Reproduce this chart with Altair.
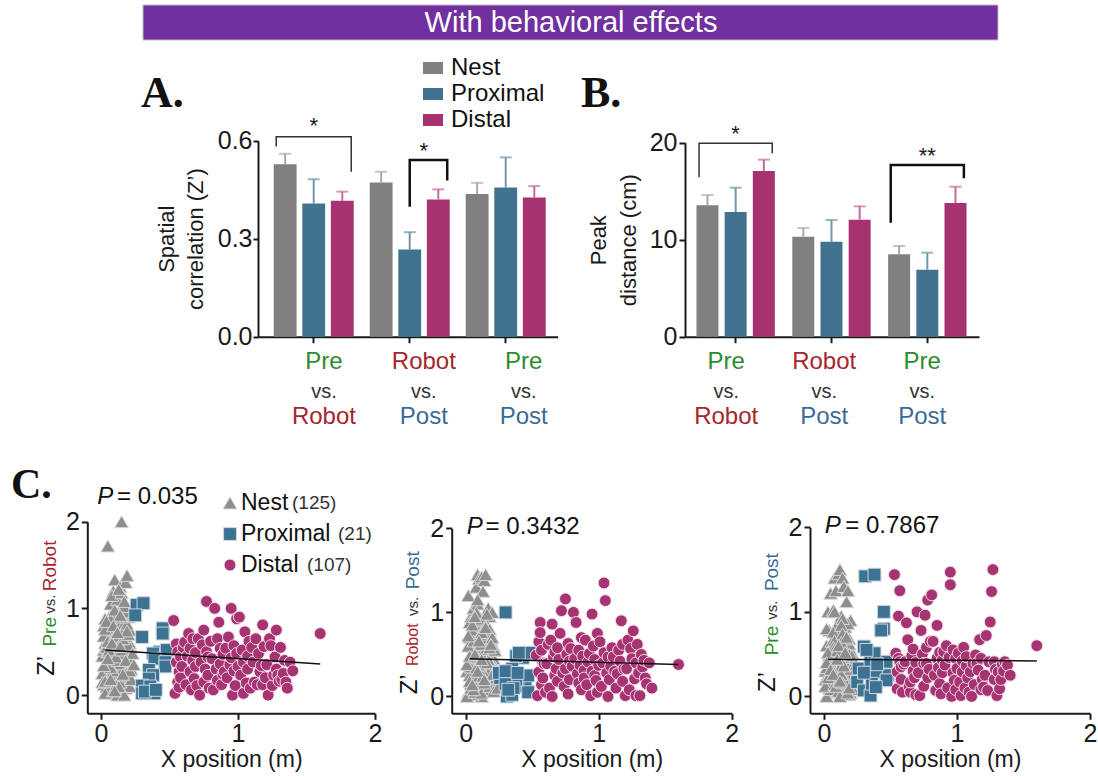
import altair as alt
import pandas as pd

W, H = 1098, 776
SANS = "Liberation Sans, Arial, Helvetica, sans-serif"
SERIF = "Liberation Serif, Times New Roman, serif"
AX = "#1a1a1a"

# ---------------- data ----------------
banner_text = "With behavioral effects"
groups = ["Pre vs. Robot", "Robot vs. Post", "Pre vs. Post"]
group_top = ["Pre", "Robot", "Pre"]
group_bottom = ["Robot", "Post", "Post"]
word_names = ["Pre", "Robot", "Post"]
word_colors = ["#2E8B2E", "#A6262C", "#3B6A95"]
cats = ["Nest", "Proximal", "Distal"]
cat_counts = ["(125)", "(21)", "(107)"]
bar_colors = ["#808080", "#41728F", "#A6336F"]
err_colors = ["#A9A9A9", "#7096AF", "#C46A9C"]
pt_fill = ["#8E8E8E", "#3E7292", "#A63372"]
pt_stroke = ["#D8D8D8", "#C9D7E2", "#F4DCE8"]
pt_shape = ["triangle-up", "square", "circle"]
c_ticks = [0, 1, 2]

# Panel A: spatial correlation (Z'), mean and SEM per group
a_nest = [0.528, 0.472, 0.437]
a_prox = [0.408, 0.267, 0.457]
a_dist = [0.416, 0.420, 0.426]
a_nest_sem = [0.032, 0.033, 0.034]
a_prox_sem = [0.074, 0.053, 0.092]
a_dist_sem = [0.028, 0.031, 0.035]

# Panel B: peak distance (cm)
b_nest = [13.54, 10.31, 8.49]
b_prox = [12.85, 9.79, 6.91]
b_dist = [17.08, 12.06, 13.78]
b_nest_sem = [1.06, 0.89, 0.86]
b_prox_sem = [2.51, 2.24, 1.75]
b_dist_sem = [1.17, 1.38, 1.68]

# Panel C: X position (m) of each cell and Z' in the three comparisons
nest_x = [0.01,0.02,0.02,0.03,0.03,0.04,0.04,0.05,0.05,0.06,0.06,0.07,0.07,0.08,0.08,0.09,0.09,0.10,0.10,0.11,0.11,0.12,0.12,0.13,0.13,
          0.14,0.14,0.15,0.15,0.16,0.16,0.17,0.17,0.18,0.18,0.19,0.19,0.20,0.20,0.21,0.21,0.22,0.02,0.03,0.05,0.06,0.08,0.09,0.11,0.12,
          0.13,0.15,0.16,0.18,0.19,0.21,0.01,0.04,0.06,0.07,0.10,0.12,0.14,0.17,0.20,0.03,0.05,0.08,0.11,0.13,0.16,0.18,0.22,0.02,0.07,
          0.09,0.10,0.14,0.15,0.19,0.21,0.04,0.06,0.08,0.12,0.16,0.17,0.20,0.01,0.03,0.05,0.09,0.11,0.13,0.15,0.18,0.19,0.23,0.04,0.07,
          0.10,0.12,0.14,0.16,0.17,0.20,0.22,0.02,0.06,0.08,0.11,0.13,0.15,0.18,0.21,0.03,0.05,0.09,0.10,0.14,0.16,0.19,0.24,0.07,0.12]
nest_z1 = [0.45,0.80,0.12,0.60,0.30,0.72,0.05,1.72,0.38,0.90,0.20,0.65,1.05,0.48,0.15,1.20,0.70,1.33,0.33,0.85,0.02,1.10,0.55,0.95,0.25,
           1.25,0.60,2.00,0.40,1.00,0.18,0.78,0.50,1.30,0.08,1.38,0.62,0.90,0.35,0.75,0.10,0.55,0.52,0.88,0.28,0.66,1.15,0.42,0.82,0.00,
           0.70,1.18,0.30,0.96,0.45,0.60,0.25,0.10,0.75,0.40,0.58,0.85,0.15,1.02,0.22,0.02,0.50,0.92,0.64,0.36,0.80,0.58,0.30,0.68,0.88,
           0.05,0.98,0.43,0.72,0.82,0.40,0.55,0.35,0.20,0.65,0.48,1.08,0.58,0.15,0.76,0.62,0.28,0.12,1.22,0.90,0.68,0.26,0.48,0.85,0.32,
           0.68,0.40,0.92,0.65,0.00,0.70,0.18,0.34,0.52,0.60,0.44,0.10,0.52,0.40,0.28,0.16,0.42,0.80,0.05,0.56,0.24,0.74,0.35,0.18,0.72]
nest_z2 = [0.30,1.20,0.05,0.70,0.42,0.95,0.15,0.60,0.25,0.85,1.05,0.35,0.55,1.30,0.10,1.45,0.65,1.40,0.20,0.80,0.48,1.42,0.00,0.90,0.33,
           1.38,0.58,1.45,0.12,0.75,0.40,1.05,0.22,0.95,0.50,0.68,0.08,1.00,0.30,0.45,0.60,0.20,0.40,0.88,0.02,0.52,0.18,1.10,0.62,0.28,
           1.25,0.45,0.85,0.15,0.72,0.38,0.00,0.50,0.30,0.78,0.10,0.92,0.64,0.35,0.55,0.25,0.78,0.42,0.14,0.68,0.20,0.80,0.32,0.60,0.05,
           1.15,0.24,0.82,0.48,0.60,0.15,0.35,0.66,1.00,0.04,0.52,0.28,0.70,0.38,0.18,0.85,0.46,0.74,0.30,0.56,0.12,0.40,0.22,0.10,0.95,
           0.36,0.76,0.16,0.98,0.44,0.26,0.55,0.72,0.08,0.34,0.62,0.24,0.82,0.58,0.06,0.48,0.14,0.30,0.66,0.20,0.40,0.62,0.10,0.50,0.44]
nest_z3 = [0.20,0.60,0.00,1.00,0.35,0.78,0.10,1.22,0.45,0.65,0.25,1.02,0.15,1.40,0.55,0.30,1.25,0.85,0.05,1.45,0.40,0.70,1.50,0.18,0.95,
           0.60,1.40,0.28,1.30,0.12,0.82,0.50,1.12,0.20,1.25,0.38,0.68,0.04,0.90,0.25,0.52,0.15,0.80,0.42,0.08,0.58,1.00,0.32,0.72,0.46,
           0.10,0.62,0.36,0.86,0.02,0.44,0.30,0.50,0.18,0.76,0.40,0.06,0.92,0.26,0.55,0.40,0.14,0.66,0.30,0.84,0.08,0.48,0.20,0.34,0.58,
           0.42,0.16,0.74,0.24,0.62,0.10,0.48,0.22,0.56,0.34,0.02,0.68,0.38,0.12,0.52,0.28,0.44,0.06,0.64,0.20,0.36,0.50,0.14,0.24,0.30,
           0.54,0.00,0.46,0.18,0.70,0.32,0.08,0.40,0.28,0.14,0.60,0.26,0.36,0.04,0.48,0.22,0.32,0.12,0.44,0.16,0.52,0.10,0.38,0.26,0.18]

prox_x = [0.26,0.31,0.25,0.45,0.45,0.30,0.43,0.48,0.38,0.39,0.47,0.47,0.35,0.38,0.35,0.30,0.36,0.30,0.39,0.32,0.40]
prox_z1 = [1.04,1.06,0.92,0.77,0.71,0.67,0.50,0.52,0.48,0.42,0.38,0.33,0.29,0.23,0.19,0.11,0.10,0.02,0.02,0.04,0.06]
prox_z2 = [0.22,0.00,0.28,0.50,0.18,1.00,0.46,0.52,0.48,0.12,0.25,0.05,0.33,0.20,0.02,0.15,0.10,0.30,0.28,0.08,0.52]
prox_z3 = [0.33,1.42,0.17,1.00,0.80,0.07,0.78,0.25,1.44,0.29,0.19,0.41,0.43,0.51,0.01,0.59,0.15,0.28,0.11,0.55,0.38]

dist_x = [0.53,0.54,0.55,0.55,0.56,0.56,0.57,0.57,0.58,0.58,0.59,0.60,
          0.61,0.62,0.63,0.64,0.65,0.65,0.66,0.67,0.67,0.68,0.69,0.69,0.70,
          0.71,0.72,0.73,0.74,0.75,0.75,0.76,0.77,0.77,0.78,0.78,0.79,0.80,
          0.81,0.82,0.83,0.84,0.85,0.85,0.86,0.87,0.87,0.88,0.89,0.89,0.90,
          0.91,0.92,0.93,0.94,0.95,0.95,0.96,0.97,0.97,0.98,0.99,0.99,1.00,
          1.01,1.02,1.03,1.04,1.04,1.05,1.06,1.07,1.07,1.08,1.09,1.10,
          1.11,1.12,1.13,1.14,1.15,1.16,1.17,1.18,1.18,1.19,1.20,
          1.21,1.22,1.23,1.24,1.25,1.26,1.27,1.28,1.28,1.29,1.30,
          1.31,1.32,1.33,1.34,1.35,1.36,1.38,1.40,
          1.60]
dist_z1 = [0.86,0.02,0.59,0.38,0.15,0.50,0.27,0.09,0.44,0.20,0.33,0.55,
           0.61,0.12,0.45,0.71,0.27,0.54,0.06,0.40,0.65,0.19,0.33,0.49,0.11,
           0.65,0.00,0.38,0.58,0.15,0.75,0.30,1.08,0.50,0.23,0.44,0.08,0.62,
           0.42,0.06,1.00,0.30,0.17,0.65,0.84,0.54,0.36,0.12,0.47,0.24,0.27,
           0.54,0.20,0.67,0.35,1.00,0.43,0.00,0.28,0.57,0.11,0.88,0.48,0.33,
           0.90,0.23,0.52,0.02,0.38,0.73,0.14,0.45,0.30,0.62,0.08,0.55,
           0.38,0.15,0.65,0.12,0.48,0.27,0.34,0.81,0.12,0.56,0.20,
           0.35,0.00,0.65,0.57,0.11,0.23,0.44,0.75,0.30,0.23,0.16,
           0.55,0.18,0.25,0.40,0.15,0.08,0.38,0.28,
           0.71]
dist_z2 = [0.49,0.01,0.65,0.29,0.88,0.76,0.14,0.55,0.40,0.22,0.39,0.05,
           0.39,0.62,0.10,0.67,0.00,0.86,0.47,0.25,0.53,0.33,0.18,0.58,0.44,
           0.75,1.02,0.28,0.12,0.33,1.16,0.50,0.63,0.03,0.42,0.20,0.57,0.36,
           1.00,0.45,0.88,0.27,0.55,0.16,0.37,0.70,0.08,0.48,0.31,0.22,0.67,
           0.14,0.41,0.51,0.01,0.98,0.30,0.60,0.25,0.44,0.19,0.75,0.05,0.37,
           0.65,0.12,0.40,0.52,1.35,1.14,0.28,0.00,0.47,0.20,0.36,0.58,
           0.47,0.30,0.10,0.27,0.55,0.42,0.90,0.18,0.62,0.33,0.01,
           0.33,0.67,0.08,0.57,0.45,0.78,0.21,0.01,0.40,0.62,0.28,
           0.01,0.50,0.35,0.43,0.22,0.15,0.40,0.10,
           0.38]
dist_z3 = [1.44,0.51,0.09,0.29,0.95,0.45,1.25,0.41,0.20,0.35,0.05,0.38,
           0.41,0.87,0.67,0.12,0.05,0.17,0.48,0.30,0.56,0.22,0.40,0.02,1.00,
           0.28,0.01,0.78,0.50,0.39,0.12,0.96,0.39,0.58,1.14,0.22,0.32,0.65,
           1.20,0.65,0.25,0.07,0.84,0.45,0.34,0.15,0.52,0.03,0.43,0.28,0.53,
           0.37,0.60,0.10,0.46,1.47,1.32,0.00,0.28,0.55,0.19,0.45,0.08,0.33,
           0.51,0.17,0.01,0.42,0.29,0.58,0.10,0.36,0.47,0.22,0.05,0.29,
           0.00,0.39,0.14,0.49,0.39,0.31,0.67,0.08,0.45,0.20,0.11,
           0.25,0.72,0.07,0.41,0.88,1.24,1.50,0.41,0.20,0.32,0.01,
           0.29,0.09,0.20,0.38,0.30,0.41,0.37,0.25,
           0.60]

# fitted regression lines (end points)
reg_x = [0.03, 1.60]
reg_z1 = [0.52, 0.36]
reg_z2 = [0.45, 0.38]
reg_z3 = [0.44, 0.42]
p_values = ["= 0.035", "= 0.3432", "= 0.7867"]
c_title_words = [["Pre", "Robot"], ["Robot", "Post"], ["Pre", "Post"]]

# ---------------- helpers ----------------
word_color = dict(zip(word_names, word_colors))
axis_common = dict(domainColor=AX, domainWidth=2, tickColor=AX, tickWidth=2, grid=False,
                   labelFont=SANS, labelFontSize=25, labelColor="#1a1a1a", labelOverlap=False,
                   labelFlush=False,
                   titleFont=SANS, titleFontWeight="normal", titleColor="#1a1a1a")
pt_sizes = [190, 140, 185]


def bar_df(means, sems):
    rows = []
    for gi, g in enumerate(groups):
        for ci, c in enumerate(cats):
            rows.append({"group": g, "cat": c, "mean": means[ci][gi], "hi": means[ci][gi] + sems[ci][gi]})
    return pd.DataFrame(rows)


def bar_panel(means, sems, xs, xos, ys, yaxis, xaxis_y, brackets, stars, label_levels):
    df = bar_df(means, sems)
    X = lambda axis=None: alt.X("group:N", scale=xs, sort=groups, axis=axis)
    XO = alt.XOffset("cat:N", scale=xos, sort=cats)
    Y = lambda f, axis=None: alt.Y(f, scale=ys, axis=axis)
    layers = []
    xaxis = alt.Axis(orient="bottom", offset=xaxis_y - H, labels=False, title=None,
                     ticks=True, tickSize=6, **axis_common)
    layers.append(alt.Chart(df).mark_bar().encode(
        x=X(xaxis), xOffset=XO, y=Y("mean:Q", yaxis),
        color=alt.Color("cat:N", scale=alt.Scale(domain=cats, range=bar_colors), legend=None)))
    ecol = alt.Color("cat:N", scale=alt.Scale(domain=cats, range=err_colors), legend=None)
    layers.append(alt.Chart(df).mark_rule(strokeWidth=2).encode(
        x=X(), xOffset=XO, y=Y("mean:Q"), y2="hi:Q", color=ecol))
    layers.append(alt.Chart(df).mark_tick(thickness=2, size=12).encode(
        x=X(), xOffset=XO, y=Y("hi:Q"), color=ecol))
    for (g, lc, rc, top, le, re_, sw, col) in brackets:
        bdf = pd.DataFrame({"group": [g] * 4, "cat": [lc, lc, rc, rc],
                            "y": [le, top, top, re_], "k": [0, 1, 2, 3]})
        layers.append(alt.Chart(bdf).mark_line(color=col, strokeWidth=sw).encode(
            x=X(), xOffset=XO, y=Y("y:Q"), order="k:Q"))
    for (g, c, yv, t, dx) in stars:
        sdf = pd.DataFrame({"group": [g], "cat": [c], "y": [yv], "t": [t]})
        layers.append(alt.Chart(sdf).mark_text(font=SANS, fontSize=22, color=AX, dx=dx,
                                               baseline="middle").encode(
            x=X(), xOffset=XO, y=Y("y:Q"), text="t:N"))
    # group labels (three lines, coloured words)
    ldf = pd.DataFrame({"group": groups, "top": group_top, "bottom": group_bottom,
                        "vs": ["vs."] * 3})
    wscale = alt.Scale(domain=word_names, range=word_colors)
    for field, lv, fs in [("top", label_levels[0], 24), ("vs", label_levels[1], 20), ("bottom", label_levels[2], 24)]:
        enc = dict(x=X(), y=Y("ly:Q"), text=f"{field}:N")
        if field != "vs":
            enc["color"] = alt.Color(f"{field}:N", scale=wscale, legend=None)
        mk = dict(font=SANS, fontSize=fs, baseline="middle")
        if field == "vs":
            mk["color"] = "#333"
        layers.append(alt.Chart(ldf).mark_text(**mk).transform_calculate(ly=str(lv)).encode(**enc))
    return layers


def text_at(texts, xs_, ys_, xscale, yscale, **mark):
    df = pd.DataFrame({"t": texts, "px": xs_, "py": ys_})
    return alt.Chart(df).mark_text(**mark).encode(
        x=alt.X("px:Q", scale=xscale, axis=None),
        y=alt.Y("py:Q", scale=yscale, axis=None),
        text="t:N")


def scatter_panel(zs, reg, xs, ys, xpx, ypx, pval, p_pos, words, title_pos, word_sizes):
    nz, pz, dz = zs
    df = pd.concat([
        pd.DataFrame({"x": nest_x, "y": nz, "cat": "Nest"}),
        pd.DataFrame({"x": prox_x, "y": pz, "cat": "Proximal"}),
        pd.DataFrame({"x": dist_x, "y": dz, "cat": "Distal"}),
    ], ignore_index=True)
    xaxis = alt.Axis(orient="bottom", offset=ypx - H, values=c_ticks, labelExpr="format(datum.value, '.0f')",
                     title="X position (m)", titleFontSize=23, titlePadding=2, tickSize=6,
                     labelPadding=2, **axis_common)
    yaxis = alt.Axis(orient="left", offset=-xpx, values=c_ticks, labelExpr="format(datum.value, '.0f')",
                     title=None, tickSize=6, labelPadding=2, **axis_common)
    layers = [alt.Chart(df).mark_point(filled=True, opacity=1, strokeWidth=1).encode(
        x=alt.X("x:Q", scale=xs, axis=xaxis),
        y=alt.Y("y:Q", scale=ys, axis=yaxis),
        shape=alt.Shape("cat:N", scale=alt.Scale(domain=cats, range=pt_shape), legend=None),
        color=alt.Color("cat:N", scale=alt.Scale(domain=cats, range=pt_fill), legend=None),
        stroke=alt.Stroke("cat:N", scale=alt.Scale(domain=cats, range=pt_stroke), legend=None),
        size=alt.Size("cat:N", scale=alt.Scale(domain=cats, range=pt_sizes), legend=None),
    )]
    rdf = pd.DataFrame({"x": reg_x, "y": reg})
    layers.append(alt.Chart(rdf).mark_line(color="#111", strokeWidth=1.5).encode(
        x=alt.X("x:Q", scale=xs, axis=None), y=alt.Y("y:Q", scale=ys, axis=None)))
    # P value
    layers.append(text_at(["P"], [p_pos[0]], [p_pos[2]], xs, ys, font=SANS, fontSize=24,
                          fontStyle="italic", align="left", baseline="middle", color="#111"))
    layers.append(text_at([pval], [p_pos[1]], [p_pos[2]], xs, ys, font=SANS, fontSize=24,
                          align="left", baseline="middle", color="#111"))
    # y title: Z'  word1 vs. word2 (rotated)
    tx, ty = title_pos
    layers.append(text_at(["Z\u2019"], [tx[0]], [ty[0]], xs, ys, font=SANS, fontSize=24, angle=270,
                          align="center", baseline="middle", color="#111"))
    layers.append(text_at([words[0]], [tx[1]], [ty[1]], xs, ys, font=SANS, fontSize=word_sizes[0], angle=270,
                          align="center", baseline="middle", color=word_color[words[0]]))
    layers.append(text_at(["vs."], [tx[2]], [ty[2]], xs, ys, font=SANS, fontSize=15, angle=270,
                          align="center", baseline="middle", color="#333"))
    layers.append(text_at([words[1]], [tx[3]], [ty[3]], xs, ys, font=SANS, fontSize=word_sizes[1], angle=270,
                          align="center", baseline="middle", color=word_color[words[1]]))
    return layers


layers = []

# banner and panel letters
bdf = pd.DataFrame({"t": [banner_text]})
layers.append(alt.Chart(bdf).mark_rect(color="#7030A0", stroke="#BFBFBF", strokeWidth=1).encode(
    x=alt.value(143), x2=alt.value(998), y=alt.value(5), y2=alt.value(40)))
layers.append(alt.Chart(bdf).mark_text(font=SANS, fontSize=29, color="white", baseline="middle").encode(
    x=alt.value(571), y=alt.value(23), text="t:N"))
for letter, lx, ly, fs in [("A.", 141, 107, 44), ("B.", 581, 107, 44), ("C.", 11, 498, 42)]:
    layers.append(alt.Chart(pd.DataFrame({"t": [letter]})).mark_text(
        font=SERIF, fontWeight="bold", fontSize=fs, align="left", baseline="alphabetic", color="#111").encode(
        x=alt.value(lx), y=alt.value(ly), text="t:N"))

# Panel A
A_x = alt.Scale(domain=groups, range=[258, 557.7], paddingInner=0, paddingOuter=0.061, align=0.66)
A_xo = alt.Scale(domain=cats, paddingInner=0.2, paddingOuter=0.28)
A_y = alt.Scale(domain=[0, 0.6], range=[336.7, 140.7], nice=False, zero=False)
A_yaxis = alt.Axis(orient="left", offset=-258, values=[0, 0.3, 0.6], format=".1f",
                   title=["Spatial", "correlation (Z\u2019)"], titleFontSize=22, titleLineHeight=29,
                   titlePadding=10, tickSize=5, labelPadding=1, **axis_common)
layers += bar_panel([a_nest, a_prox, a_dist], [a_nest_sem, a_prox_sem, a_dist_sem],
                    A_x, A_xo, A_y, A_yaxis, 336.7,
                    brackets=[("Pre vs. Robot", "Nest", "Distal", 0.612, 0.582, 0.505, 1.5, "#333"),
                              ("Robot vs. Post", "Proximal", "Distal", 0.541, 0.398, 0.478, 2.5, "#111")],
                    stars=[("Pre vs. Robot", "Proximal", 0.645, "*", 0),
                           ("Robot vs. Post", "Proximal", 0.568, "*", 14)],
                    label_levels=[-0.0765, -0.168, -0.245])

# Panel B
B_x = alt.Scale(domain=groups, range=[685, 979], paddingInner=0, paddingOuter=0.034, align=0.42)
B_xo = alt.Scale(domain=cats, paddingInner=0.22, paddingOuter=0.31)
B_y = alt.Scale(domain=[0, 20], range=[336.7, 142.7], nice=False, zero=False)
B_yaxis = alt.Axis(orient="left", offset=-685, values=[0, 10, 20], format="d",
                   title=["Peak", "distance (cm)"], titleFontSize=22, titleLineHeight=30,
                   titlePadding=9, tickSize=6, labelPadding=2, **axis_common)
layers += bar_panel([b_nest, b_prox, b_dist], [b_nest_sem, b_prox_sem, b_dist_sem],
                    B_x, B_xo, B_y, B_yaxis, 336.7,
                    brackets=[("Pre vs. Robot", "Nest", "Distal", 19.94, 16.43, 18.9, 1.5, "#333"),
                              ("Pre vs. Post", "Nest", "Distal", 17.7, 11.75, 16.33, 2.5, "#111")],
                    stars=[("Pre vs. Robot", "Proximal", 20.9, "*", 0),
                           ("Pre vs. Post", "Proximal", 18.6, "**", 0)],
                    label_levels=[-2.58, -5.67, -8.25])

# legend for A/B (centre)
leg_ab_y = alt.Scale(type="point", domain=cats, range=[68, 120], padding=0)
ldf = pd.DataFrame({"cat": cats})
layers.append(alt.Chart(ldf).mark_point(shape="M-1,-0.6H1V0.6H-1Z", filled=True, opacity=1, size=400).encode(
    x=alt.value(433), y=alt.Y("cat:N", scale=leg_ab_y, axis=None),
    color=alt.Color("cat:N", scale=alt.Scale(domain=cats, range=bar_colors), legend=None)))
layers.append(alt.Chart(ldf).mark_text(font=SANS, fontSize=24, align="left", baseline="middle", color="#111").encode(
    x=alt.value(451), y=alt.Y("cat:N", scale=leg_ab_y, axis=None), text="cat:N"))

# Panel C
C1_x = alt.Scale(domain=[-0.1, 2], range=[87.3, 375], nice=False, zero=False)
C1_y = alt.Scale(domain=[-0.21, 2], range=[713.3, 521.7], nice=False, zero=False)
C2_x = alt.Scale(domain=[-0.105, 2], range=[451.7, 731.7], nice=False, zero=False)
C2_y = alt.Scale(domain=[-0.2, 2], range=[713.3, 528.3], nice=False, zero=False)
C3_x = alt.Scale(domain=[-0.105, 2], range=[810, 1090], nice=False, zero=False)
C3_y = alt.Scale(domain=[-0.2, 2], range=[713.3, 527.3], nice=False, zero=False)

layers += scatter_panel((nest_z1, prox_z1, dist_z1), reg_z1, C1_x, C1_y, 87.3, 713.3,
                        p_values[0], (-0.027, 0.117, 2.28), c_title_words[0],
                        ([-0.394, -0.374, -0.37, -0.374], [0.338, 0.73, 1.05, 1.49]), (19, 19))
layers += scatter_panel((nest_z2, prox_z2, dist_z2), reg_z2, C2_x, C2_y, 451.7, 713.3,
                        p_values[1], (0.0075, 0.15, 2.02), c_title_words[1],
                        ([-0.422, -0.398, -0.393, -0.398], [0.145, 0.615, 1.07, 1.5]), (16, 19))
layers += scatter_panel((nest_z3, prox_z3, dist_z3), reg_z3, C3_x, C3_y, 810, 713.3,
                        p_values[2], (0.005, 0.16, 2.02), c_title_words[2],
                        ([-0.42, -0.394, -0.39, -0.394], [0.17, 0.66, 1.02, 1.47]), (19, 19))

# legend for C (inside first scatter)
leg_c_y = alt.Scale(type="point", domain=cats, range=[503, 565], padding=0)
layers.append(alt.Chart(ldf).mark_point(filled=True, opacity=1, strokeWidth=1).encode(
    x=alt.value(230), y=alt.Y("cat:N", scale=leg_c_y, axis=None),
    shape=alt.Shape("cat:N", scale=alt.Scale(domain=cats, range=pt_shape), legend=None),
    color=alt.Color("cat:N", scale=alt.Scale(domain=cats, range=pt_fill), legend=None),
    stroke=alt.Stroke("cat:N", scale=alt.Scale(domain=cats, range=pt_stroke), legend=None),
    size=alt.Size("cat:N", scale=alt.Scale(domain=cats, range=pt_sizes), legend=None)))
layers.append(alt.Chart(ldf).mark_text(font=SANS, fontSize=23, align="left", baseline="middle", color="#111").encode(
    x=alt.value(241), y=alt.Y("cat:N", scale=leg_c_y, axis=None), text="cat:N"))
for c, n, cx in zip(cats, cat_counts, [292, 338, 307]):
    layers.append(alt.Chart(pd.DataFrame({"cat": [c], "n": [n]})).mark_text(
        font=SANS, fontSize=19, align="left", baseline="middle", color="#333").encode(
        x=alt.value(cx), y=alt.Y("cat:N", scale=leg_c_y, axis=None), text="n:N"))

chart = alt.layer(*layers).properties(
    width=W, height=H, autosize=alt.AutoSizeParams(type="none"), padding=0, background="white"
).resolve_scale(
    x="independent", y="independent", color="independent", shape="independent",
    size="independent", stroke="independent", xOffset="independent"
).resolve_axis(x="independent", y="independent").configure_view(stroke=None)

chart.save("out.html", embed_options={"renderer": "svg", "actions": False})
